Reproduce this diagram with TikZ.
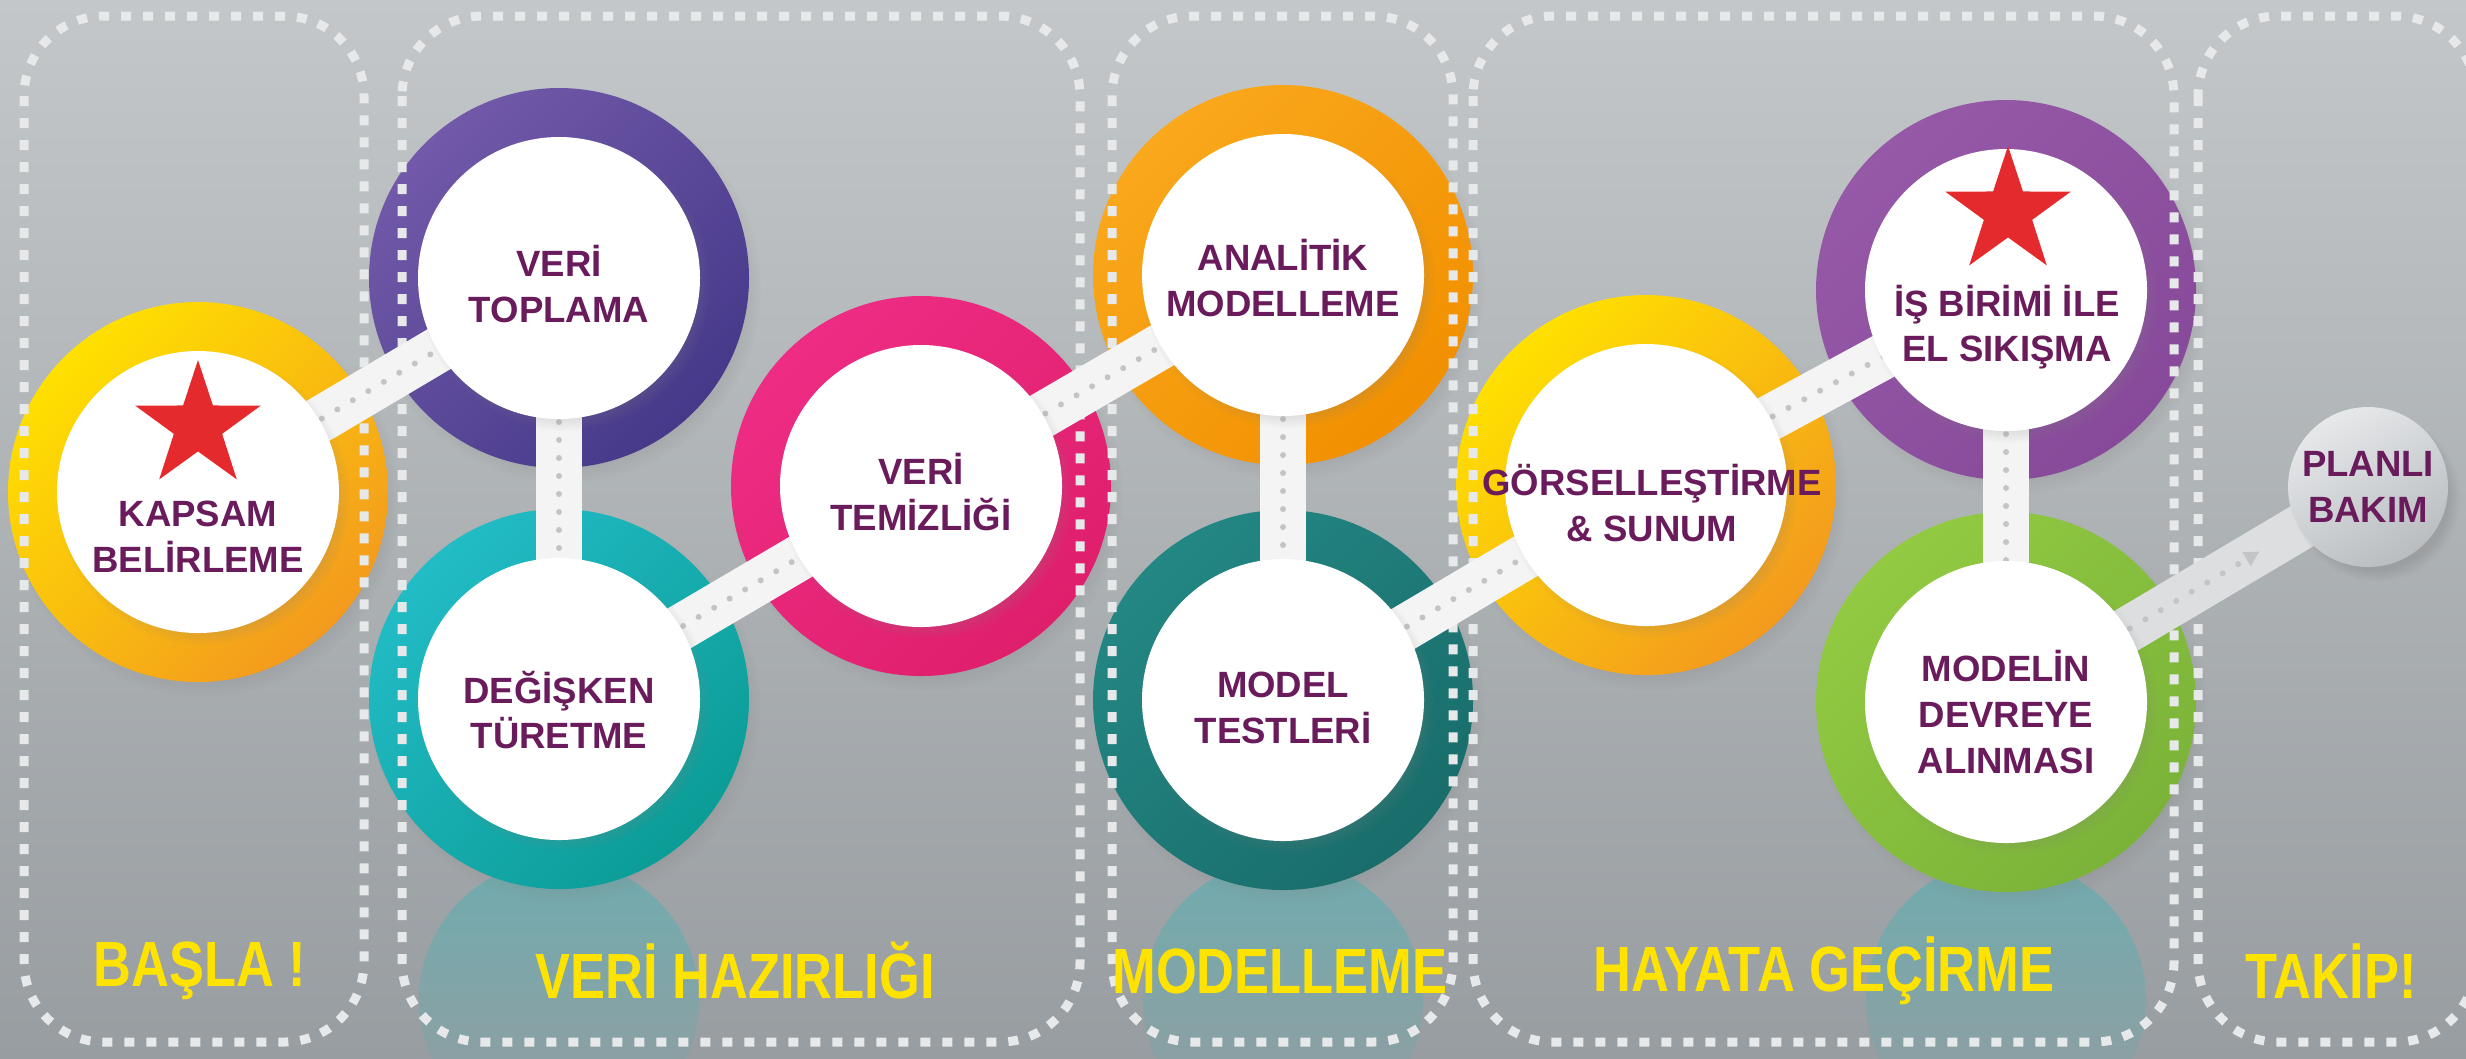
\documentclass[tikz,border=0pt]{standalone}
\usepackage{fontspec}
\setmainfont{Liberation Sans}
\newfontfamily\narrowfont[FakeStretch=0.82]{Liberation Sans}
\usepackage{xcolor}
\usetikzlibrary{shapes.geometric, arrows.meta, positioning, calc, shadows, fadings}

\definecolor{bgtop}{HTML}{C3C7C9}
\definecolor{bgbottom}{HTML}{989DA1}
\definecolor{plum}{HTML}{6A1B5C}
\definecolor{phaseyellow}{HTML}{FFE300}
\definecolor{starred}{HTML}{E42A2D}
\definecolor{framewhite}{HTML}{E6E8E9}
\definecolor{barwhite}{HTML}{F4F4F4}
\definecolor{dotgray}{HTML}{C2C4C6}
\definecolor{reflectteal}{HTML}{3FB3B5}
\definecolor{bargrey}{HTML}{DCDEE0}
% ring colours
\definecolor{yelA}{HTML}{FFE000}
\definecolor{yelB}{HTML}{F39A1E}
\definecolor{purA}{HTML}{7259A9}
\definecolor{purB}{HTML}{46398A}
\definecolor{tealA}{HTML}{22BCC6}
\definecolor{tealB}{HTML}{0B9C96}
\definecolor{pinkA}{HTML}{EE2C84}
\definecolor{pinkB}{HTML}{DF1F6C}
\definecolor{orA}{HTML}{FAA81C}
\definecolor{orB}{HTML}{F19000}
\definecolor{dtealA}{HTML}{238783}
\definecolor{dtealB}{HTML}{196D6B}
\definecolor{lilA}{HTML}{9659A8}
\definecolor{lilB}{HTML}{874A9A}
\definecolor{grnA}{HTML}{92CA42}
\definecolor{grnB}{HTML}{7AB338}
\definecolor{bubA}{HTML}{E6E8EA}
\definecolor{bubB}{HTML}{B9BDC0}

\begin{document}
\begin{tikzpicture}[
    x=1cm, y=-1cm,
    ring/.style 2 args={circle, minimum size=3.8cm, inner sep=0pt,
                        top color=#1, bottom color=#2, shading angle=45,
                        circular drop shadow={shadow scale=1.03, shadow xshift=.06cm,
                                              shadow yshift=-.09cm, opacity=.35}},
    disc/.style={circle, fill=white, minimum size=2.82cm, inner sep=0pt,
                 circular drop shadow={shadow scale=1.04, shadow xshift=.05cm,
                                       shadow yshift=-.06cm, opacity=.3}},
    stagetext/.style={text=plum, align=center, inner sep=0pt,
                      font=\bfseries\fontsize{10.4}{13}\selectfont},
    bar/.style={line width=.46cm, draw=barwhite,
                postaction={draw=dotgray, line width=.06cm, line cap=round,
                            dash pattern=on 0pt off .18cm}},
    greybar/.style={line width=.46cm, draw=bargrey},
    frame/.style={draw=framewhite, line width=.09cm,
                  dash pattern=on .1cm off .12cm, rounded corners=.8cm},
    phase/.style={text=phaseyellow, inner sep=0pt,
                  font=\narrowfont\bfseries\fontsize{18.2}{20}\selectfont},
    redstar/.style={star, star points=5, star point ratio=2.6, fill=starred,
                    minimum size=1.32cm, inner sep=0pt},
    bubble/.style={circle, minimum size=1.6cm, inner sep=0pt,
                   top color=bubA, bottom color=bubB, shading angle=30,
                   circular drop shadow={shadow scale=1.05, shadow xshift=.08cm,
                                         shadow yshift=-.1cm, opacity=.35}}
]
    \useasboundingbox (0,0) rectangle (24.66,10.58);
    \fill[top color=bgtop, bottom color=bgbottom] (0,0) rectangle (24.66,10.58);

    % reflections below the lower row
    \foreach \rx in {5.59, 12.83, 20.06}
        \fill[reflectteal, path fading=south, fill opacity=.5] (\rx,10.0) circle (1.4);

    % coloured rings
    \node[ring={yelA}{yelB}] (kapsam) at (1.98,4.92) {};
    \node[ring={purA}{purB}] (toplama) at (5.59,2.78) {};
    \node[ring={tealA}{tealB}] (turetme) at (5.59,6.99) {};
    \node[ring={pinkA}{pinkB}] (temizlik) at (9.21,4.86) {};
    \node[ring={orA}{orB}] (analitik) at (12.83,2.75) {};
    \node[ring={dtealA}{dtealB}] (testler) at (12.83,7.00) {};
    \node[ring={yelA}{yelB}] (gorsel) at (16.46,4.85) {};
    \node[ring={lilA}{lilB}] (isbirimi) at (20.06,2.90) {};
    \node[ring={grnA}{grnB}] (devreye) at (20.06,7.02) {};

    % phase frames
    \draw[frame] (0.24,0.16) rectangle (3.64,10.42);
    \draw[frame] (4.02,0.16) rectangle (10.80,10.42);
    \draw[frame] (11.12,0.16) rectangle (14.53,10.42);
    \draw[frame] (14.73,0.16) rectangle (21.74,10.42);
    \draw[frame] (21.98,0.16) rectangle (24.76,10.42);

    % links
    \draw[bar] (kapsam.center) -- (toplama.center);
    \draw[bar] (toplama.center) -- (turetme.center);
    \draw[bar] (turetme.center) -- (temizlik.center);
    \draw[bar] (temizlik.center) -- (analitik.center);
    \draw[bar] (analitik.center) -- (testler.center);
    \draw[bar] (testler.center) -- (gorsel.center);
    \draw[bar] (gorsel.center) -- (isbirimi.center);
    \draw[bar] (isbirimi.center) -- (devreye.center);

    \coordinate (bakimc) at (23.68,4.87);
    \coordinate (dotend) at ($(devreye)!.7!(bakimc)$);
    \draw[greybar] (devreye.center) -- (bakimc);
    \draw[dotgray, line width=.06cm, line cap=round, dash pattern=on 0pt off .18cm,
          -{Triangle[length=.15cm, width=.15cm]}] (devreye.center) -- (dotend);
    \node[bubble] (bakim) at (bakimc) {};

    % white discs
    \node[disc] (kapsamw) at (kapsam) {};
    \node[disc] (toplamaw) at (toplama) {};
    \node[disc] (turetmew) at (turetme) {};
    \node[disc] (temizlikw) at (temizlik) {};
    \node[disc] (analitikw) at (analitik) {};
    \node[disc] (testlerw) at (testler) {};
    \node[disc] (gorselw) at (gorsel) {};
    \node[disc] (isbirimiw) at (isbirimi) {};
    \node[disc] (devreyew) at (devreye) {};

    % stars
    \node[redstar] (star1) at (1.98,4.26) {};
    \node[redstar] (star2) at (20.08,2.12) {};

    % stage texts
    \node[stagetext] (kapsamt) at (1.98,5.37) {KAPSAM\\BELİRLEME};
    \node[stagetext] (toplamat) at (5.59,2.84) {VERİ\\TOPLAMA};
    \node[stagetext] (turetmet) at (5.59,7.10) {DEĞİŞKEN\\TÜRETME};
    \node[stagetext] (temizlikt) at (9.21,4.92) {VERİ\\TEMİZLİĞİ};
    \node[stagetext] (analitikt) at (12.83,2.78) {ANALİTİK\\MODELLEME};
    \node[stagetext] (testlert) at (12.83,7.08) {MODEL\\TESTLERİ};
    \node[stagetext] (gorselt) at (16.52,5.03) {GÖRSELLEŞTİRME\\\& SUNUM};
    \node[stagetext] (isbirimit) at (20.07,3.27) {İŞ BİRİMİ İLE\\EL SIKIŞMA};
    \node[stagetext] (devreyet) at (20.06,7.12) {MODELİN\\DEVREYE\\ALINMASI};
    \node[stagetext] (bakimt) at (bakim) {PLANLI\\BAKIM};

    % phase names
    \node[phase] (basla) at (2.00,9.71) {BAŞLA !};
    \node[phase] (hazirlik) at (7.35,9.71) {VERİ HAZIRLIĞI};
    \node[phase] (modelleme) at (12.80,9.71) {MODELLEME};
    \node[phase] (hayata) at (18.24,9.71) {HAYATA GEÇİRME};
    \node[phase] (takip) at (23.31,9.71) {TAKİP!};
\end{tikzpicture}
\end{document}
